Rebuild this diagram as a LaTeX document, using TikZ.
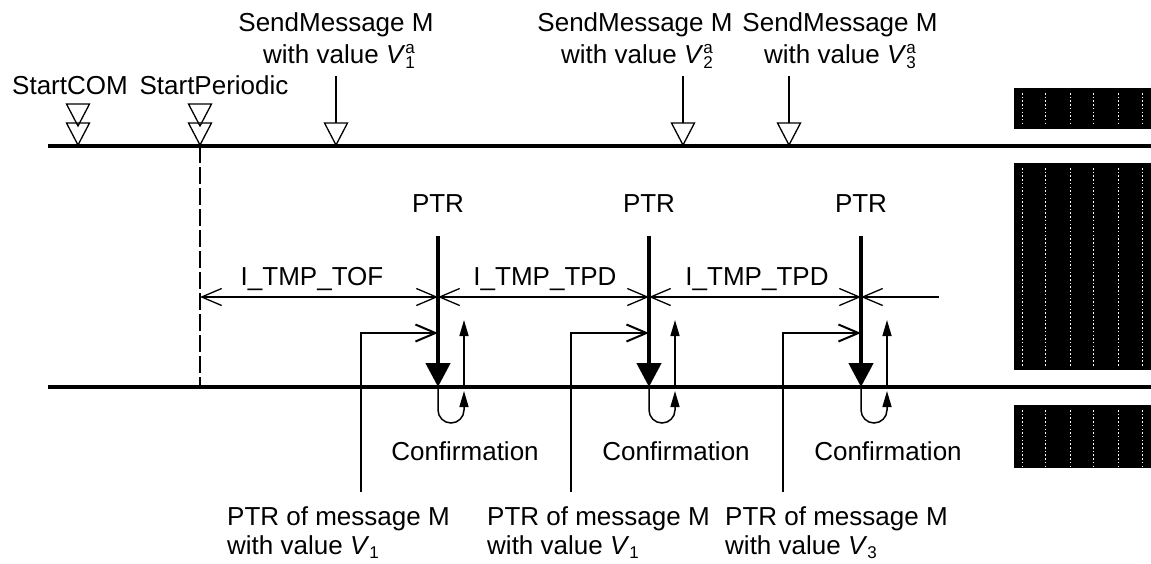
\documentclass[tikz,border=0pt]{standalone}
\usepackage{fontspec}
\setmainfont{Liberation Sans}
\usetikzlibrary{arrows.meta}
\newcommand{\vsub}[2]{\textit{V}\rlap{\raisebox{-5pt}{\fontsize{17}{17}\selectfont #1}}\raisebox{10pt}{\fontsize{17}{17}\selectfont #2}}
\newcommand{\vlow}[1]{\textit{V}\raisebox{-4pt}{\fontsize{17}{17}\selectfont #1}}
\begin{document}
\begin{tikzpicture}[x=1pt,y=-1pt,
  lbl/.style={font=\fontsize{26}{31}\selectfont, inner sep=0pt},
  mainline/.style={line width=4pt},
  thinline/.style={line width=1.3pt},
  ptrarrow/.style={line width=4.5pt, -{Triangle[length=24pt,width=24pt]}},
  barb/.tip={Straight Barb[length=20pt,width=17pt]},
  dimline/.style={line width=1.3pt, barb-barb},
  lshape/.style={line width=2pt, -barb},
  confarrow/.style={line width=1.5pt, -{Triangle[length=16pt,width=9pt]}},
  blackbox/.style={fill=black, draw=none},
  wavy/.style={white, line width=0.9pt, dash pattern=on 1.5pt off 2.2pt},
  mk/.pic={\draw[line width=1.3pt, line join=miter] (-11.5,-22) -- (11.5,-22) -- (0,0) -- cycle;}
]
\useasboundingbox (0,0) rectangle (1151,563);

% main time lines
\coordinate (t0) at (48,146);
\coordinate (t1) at (1151,146);
\coordinate (b0) at (48,387);
\coordinate (b1) at (1151,387);
\draw[mainline] (t0) -- (t1);
\draw[mainline] (b0) -- (b1);

% right black boxes
\fill[blackbox] (1014,88) rectangle (1151,129);
\fill[blackbox] (1014,163) rectangle (1151,370);
\fill[blackbox] (1014,405) rectangle (1151,468);
\foreach \xx in {1022,1045,1070,1093,1118,1142}{
  \draw[wavy] (\xx,93) -- (\xx,125);
  \draw[wavy] (\xx,168) -- (\xx,366);
  \draw[wavy] (\xx,410) -- (\xx,468);
}

% StartCOM / StartPeriodic
\node[lbl, anchor=base] (startcom) at (70,94) {StartCOM};
\node[lbl, anchor=base] (startper) at (214,94) {StartPeriodic};
\pic at (78,126) {mk};
\pic at (78,145) {mk};
\pic at (200,126) {mk};
\pic at (200,145) {mk};
\coordinate (per0) at (200,146);
\coordinate (per1) at (200,387);
\draw[line width=2pt, dash pattern=on 17pt off 4pt] (per0) -- (per1);

% SendMessage labels and arrows
\node[lbl, anchor=base] (sm1a) at (336,31) {SendMessage M};
\node[lbl, anchor=base] (sm1b) at (339,63) {with value \vsub{1}{a}};
\node[lbl, anchor=base] (sm2a) at (635,31) {SendMessage M};
\node[lbl, anchor=base] (sm2b) at (637,63) {with value \vsub{2}{a}};
\node[lbl, anchor=base] (sm3a) at (840,31) {SendMessage M};
\node[lbl, anchor=base] (sm3b) at (840,63) {with value \vsub{3}{a}};
\foreach \xx/\nm in {336/s1,683/s2,789/s3}{
  \coordinate (\nm top) at (\xx,76);
  \coordinate (\nm tri) at (\xx,123);
  \draw[thinline] (\nm top) -- (\nm tri);
  \pic at (\xx,145) {mk};
}

% PTR arrows
\foreach \xx/\nm in {438/p1,649/p2,861/p3}{
  \node[lbl, anchor=base] (\nm lbl) at (\xx,212) {PTR};
  \coordinate (\nm top) at (\xx,236);
  \coordinate (\nm bot) at (\xx,387);
  \draw[ptrarrow] (\nm top) -- (\nm bot);
}

% dimension lines
\coordinate (d0) at (200,297);
\coordinate (d1) at (438,297);
\coordinate (d2) at (649,297);
\coordinate (d3) at (861,297);
\coordinate (d4) at (939,297);
\draw[dimline] (d0) -- (d1);
\draw[dimline] (d1) -- (d2);
\draw[dimline] (d2) -- (d3);
\draw[line width=1.3pt, barb-] (d3) -- (d4);
\node[lbl, anchor=base] (tof) at (312,285) {I\_TMP\_TOF};
\node[lbl, anchor=base] (tpd1) at (545,285) {I\_TMP\_TPD};
\node[lbl, anchor=base] (tpd2) at (757,285) {I\_TMP\_TPD};

% PTR input L-shapes
\coordinate (in1) at (361,492);
\coordinate (in2) at (571,492);
\coordinate (in3) at (783,492);
\coordinate (h1) at (438,333);
\coordinate (h2) at (649,333);
\coordinate (h3) at (861,333);
\draw[lshape] (in1) |- (h1);
\draw[lshape] (in2) |- (h2);
\draw[lshape] (in3) |- (h3);

% confirmations
\foreach \xx/\nm in {438/c1,649/c2,861/c3}{
  \coordinate (\nm a) at (\xx,387);
  \coordinate (\nm b) at (\xx+26,391);
  \coordinate (\nm c) at (\xx+26,387);
  \coordinate (\nm d) at (\xx+26,320);
  \draw[confarrow] (\nm a) -- (\xx,410) arc[start angle=180, end angle=0, radius=13] -- (\nm b);
  \draw[confarrow] (\nm c) -- (\nm d);
  \node[lbl, anchor=base] (\nm lbl) at (\xx+27,460) {Confirmation};
}

% bottom labels
\node[lbl, anchor=base west] (m1a) at (227,525) {PTR of message M};
\node[lbl, anchor=base west] (m1b) at (227,554) {with value \vlow{1}};
\node[lbl, anchor=base west] (m2a) at (487,525) {PTR of message M};
\node[lbl, anchor=base west] (m2b) at (487,554) {with value \vlow{1}};
\node[lbl, anchor=base west] (m3a) at (725,525) {PTR of message M};
\node[lbl, anchor=base west] (m3b) at (725,554) {with value \vlow{3}};
\end{tikzpicture}
\end{document}
